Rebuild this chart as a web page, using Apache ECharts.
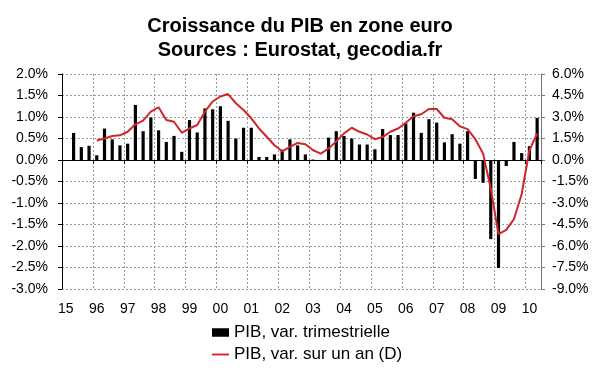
<!DOCTYPE html>
<html>
<head>
<meta charset="utf-8">
<script src="https://cdn.jsdelivr.net/npm/echarts@6/dist/echarts.min.js"></script>
<style>
html,body{margin:0;padding:0;background:#fff;}
#chart{width:600px;height:372px;}
</style>
</head>
<body>
<div id="chart"></div>
<script>
// Tick labels on the category axis (one per year, first quarter)
const yearLabels = ['15','96','97','98','99','00','01','02','03','04','05','06','07','08','09','10'];
const quartersPerYear = ['T1','T2','T3','T4'];

// Quarterly GDP change (%), left axis
const pibTrimestriel = [
  null, 0.63, 0.30, 0.33,
  0.11, 0.73, 0.48, 0.34,
  0.38, 1.28, 0.67, 0.99,
  0.69, 0.42, 0.56, 0.19,
  0.93, 0.64, 1.20, 1.18,
  1.25, 0.91, 0.50, 0.75,
  0.75, 0.07, 0.07, 0.13,
  0.24, 0.48, 0.34, 0.13,
  0.01, 0.00, 0.52, 0.67,
  0.56, 0.50, 0.36, 0.36,
  0.25, 0.72, 0.58, 0.58,
  0.85, 1.10, 0.63, 0.95,
  0.87, 0.41, 0.60, 0.38,
  0.67, -0.44, -0.53, -1.84,
  -2.51, -0.14, 0.42, 0.16,
  0.32, 0.98
];

// Year-on-year GDP change (%), right axis
const pibAnnuel = [
  null, null, null, null,
  1.36, 1.50, 1.67, 1.72,
  1.97, 2.49, 2.75, 3.37,
  3.68, 2.79, 2.67, 1.90,
  2.20, 2.44, 3.37, 4.08,
  4.43, 4.60, 3.96, 3.49,
  2.91, 2.20, 1.62, 1.03,
  0.61, 0.91, 1.19, 1.10,
  0.68, 0.45, 0.80, 1.30,
  1.86, 2.25, 1.97, 1.78,
  1.45, 1.60, 1.97, 2.20,
  2.60, 3.05, 3.19, 3.56,
  3.56, 2.95, 2.85, 2.35,
  2.15, 1.45, 0.45, -2.00,
  -5.18, -4.88, -4.13, -2.37,
  0.68, 1.85
];

const categories = [];
for (const y of yearLabels) {
  for (const q of quartersPerYear) {
    if (categories.length < pibTrimestriel.length) categories.push(y + ' ' + q);
  }
}

const FONT = 'Liberation Sans';
const RED = '#d0262b';
const grid = {left: 62, right: 59, top: 74, bottom: 83};
const dash = {color: '#9a9a9a', type: [2, 2], width: 1};

const chart = echarts.init(document.getElementById('chart'));
chart.setOption({
  animation: false,
  backgroundColor: '#fff',
  textStyle: {fontFamily: FONT},
  title: {
    text: 'Croissance du PIB en zone euro\nSources : Eurostat, gecodia.fr',
    left: 'center',
    top: 9,
    textStyle: {fontFamily: FONT, fontSize: 20, fontWeight: 'bold', color: '#000', lineHeight: 24}
  },
  legend: {
    orient: 'vertical',
    left: 212,
    top: 324,
    padding: 0,
    itemWidth: 17,
    itemHeight: 14,
    itemGap: 5,
    symbolKeepAspect: true,
    textStyle: {fontFamily: FONT, fontSize: 17, color: '#000'},
    data: [
      {name: 'PIB, var. trimestrielle', icon: 'path://M0,0 L18,0 L18,9 L0,9 Z'},
      {name: 'PIB, var. sur un an (D)', icon: 'path://M0,0 L18,0 L18,2 L0,2 Z'}
    ]
  },
  grid: grid,
  xAxis: [
    {
      type: 'category',
      data: categories,
      position: 'bottom',
      boundaryGap: true,
      axisLine: {show: false, onZero: false},
      axisTick: {show: false},
      axisLabel: {
        interval: 3,
        margin: 13,
        fontSize: 14,
        color: '#000',
        fontFamily: FONT,
        formatter: v => v.split(' ')[0]
      },
      splitLine: {show: true, interval: 3, lineStyle: dash}
    },
    {
      type: 'category',
      data: categories,
      position: 'bottom',
      boundaryGap: true,
      axisLine: {show: true, onZero: true, onZeroAxisIndex: 0, lineStyle: {color: '#000', width: 1}},
      axisTick: {show: true, interval: 3, length: 4, lineStyle: {color: '#000'}},
      axisLabel: {show: false},
      splitLine: {show: false}
    }
  ],
  yAxis: [
    {
      type: 'value',
      min: -3, max: 2, interval: 0.5,
      position: 'left',
      axisLine: {show: true, onZero: false, lineStyle: {color: '#000'}},
      axisTick: {show: true, length: 4, lineStyle: {color: '#000'}},
      axisLabel: {margin: 14, fontSize: 14, color: '#000', fontFamily: FONT, formatter: v => v.toFixed(1) + '%'},
      splitLine: {show: true, lineStyle: dash}
    },
    {
      type: 'value',
      min: -9, max: 6, interval: 1.5,
      position: 'right',
      axisLine: {show: true, onZero: false, lineStyle: {color: '#777'}},
      axisTick: {show: true, length: 4, lineStyle: {color: '#777'}},
      axisLabel: {margin: 11, fontSize: 14, color: '#000', fontFamily: FONT, formatter: v => v.toFixed(1) + '%'},
      splitLine: {show: false}
    }
  ],
  series: [
    {
      name: 'PIB, var. trimestrielle',
      type: 'bar',
      xAxisIndex: 0,
      yAxisIndex: 0,
      data: pibTrimestriel,
      barWidth: 3.2,
      itemStyle: {color: '#000'}
    },
    {
      name: 'PIB, var. sur un an (D)',
      type: 'line',
      xAxisIndex: 0,
      yAxisIndex: 1,
      data: pibAnnuel,
      symbol: 'none',
      showSymbol: false,
      connectNulls: false,
      lineStyle: {color: RED, width: 2},
      itemStyle: {color: RED}
    }
  ]
});
</script>
</body>
</html>
